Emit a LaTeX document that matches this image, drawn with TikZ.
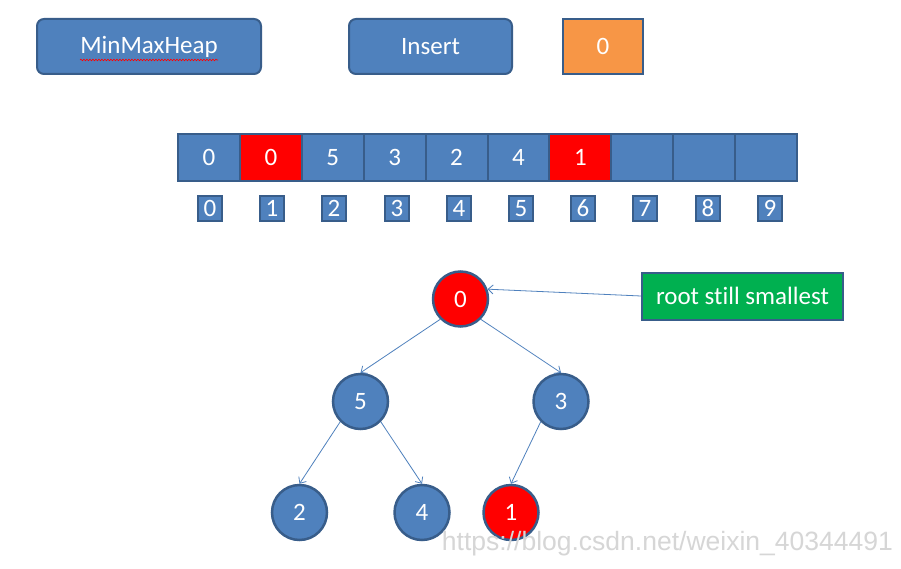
\documentclass[tikz,border=0pt]{standalone}
\usepackage{fontspec}
\setmainfont[Ligatures=NoCommon]{Carlito}
\newfontfamily\wmfont{Liberation Sans}
\usetikzlibrary{arrows.meta,decorations.pathmorphing}
\definecolor{bfill}{HTML}{4F81BD}
\definecolor{bline}{HTML}{385D8A}
\definecolor{ofill}{HTML}{F79646}
\definecolor{gfill}{HTML}{00B050}
\definecolor{rfill}{HTML}{FF0000}
\begin{document}
\begin{tikzpicture}[x=1pt,y=-1pt,
  every node/.style={font=\fontsize{25}{29}\selectfont, text=white, inner sep=0pt},
  base/.style={draw=bline, line width=2pt, fill=bfill},
  rbox/.style={base, rounded corners=7pt},
  cell/.style={base, minimum width=61.9pt, minimum height=47pt},
  idx/.style={base, minimum width=24pt, minimum height=25pt},
  tnode/.style={base, circle, minimum size=55pt, line width=2.5pt},
  edge/.style={draw=bfill, line width=0.8pt, -{Straight Barb[length=5pt,width=9pt]}}
]
\useasboundingbox (0,0) rectangle (901,569);
\fill[white] (0,0) rectangle (901,569);

% top boxes
\node[rbox, minimum width=224pt, minimum height=55pt] (mmh) at (149,46.5) {MinMaxHeap};
\node[rbox, minimum width=163pt, minimum height=55pt] (ins) at (430.5,46.5) {Insert};
\node[base, fill=ofill, minimum width=80pt, minimum height=55pt] (val) at (603,46.5) {0};
\draw[rfill, line width=0.6pt, decorate, decoration={snake, amplitude=0.8pt, segment length=3pt}] (80,60) -- (218,60);

% array
\foreach \i/\v/\c in {0/0/bfill,1/0/rfill,2/5/bfill,3/3/bfill,4/2/bfill,5/4/bfill,6/1/rfill,7//bfill,8//bfill,9//bfill}{
  \node[cell, fill=\c] (a\i) at ({178+61.9*(\i+0.5)},157.5) {\v};
}
% indices
\foreach \i/\x in {0/210,1/272,2/334,3/397,4/459,5/521,6/583,7/645,8/708,9/770}{
  \node[idx] (i\i) at (\x,208.5) {\i};
}

% tree
\node[tnode, fill=rfill] (r) at (460.5,299) {0};
\node[tnode] (n5) at (360.5,401.5) {5};
\node[tnode] (n3) at (561,401.5) {3};
\node[tnode] (n2) at (299.5,512.5) {2};
\node[tnode] (n4) at (422,512.5) {4};
\node[tnode, fill=rfill] (n1) at (511,512.5) {1};

\node[base, fill=gfill, minimum width=201pt, minimum height=47pt] (g) at (742.5,296) {root still smallest};

\draw[edge] (r.-135) -- (n5.north);
\draw[edge] (r.-45) -- (n3.north);
\draw[edge] (n5.-135) -- (n2.north);
\draw[edge] (n5.-45) -- (n4.north);
\draw[edge] (n3.-135) -- (n1.north);
\draw[edge] (g.west) -- (r.20);

% watermark
\node[anchor=east, text=black!16, font=\wmfont\fontsize{26.5}{30}\selectfont] (wm) at (893,544) {https://blog.csdn.net/weixin\_40344491};
\end{tikzpicture}
\end{document}
